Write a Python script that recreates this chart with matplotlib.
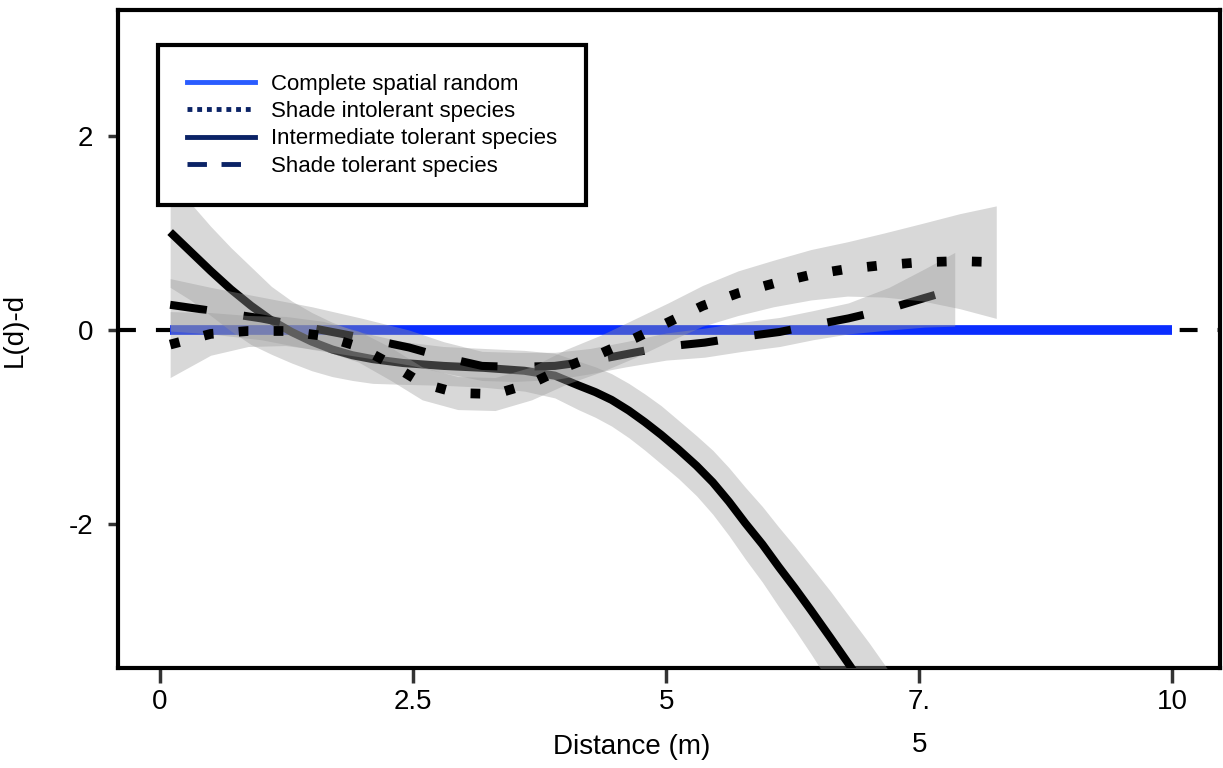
import matplotlib
matplotlib.use('Agg')
import numpy as np
import matplotlib.pyplot as plt
from matplotlib.lines import Line2D

plt.rcParams['font.family'] = ['Liberation Sans', 'DejaVu Sans']
plt.rcParams['axes.unicode_minus'] = False

# values
csr_x = [0.1, 10.0]
csr_y = [0.0, 0.0]

# intermediate tolerant species (solid)
inter_x = [0.1, 0.3, 0.5, 0.7, 0.9, 1.1, 1.3, 1.5, 1.7, 1.9, 2.1, 2.4, 2.8, 3.2,
           3.6, 3.9, 4.13, 4.3, 4.46, 4.63, 4.79, 4.95, 5.12, 5.3, 5.46, 5.62,
           5.78, 5.95, 6.11, 6.27, 6.43, 6.62, 6.82, 7.0, 7.25]
inter_y = [1.01, 0.81, 0.61, 0.42, 0.25, 0.1, -0.02, -0.12, -0.2, -0.26, -0.3,
           -0.34, -0.37, -0.39, -0.42, -0.47, -0.57, -0.64, -0.72, -0.83, -0.95,
           -1.08, -1.23, -1.4, -1.57, -1.77, -1.99, -2.21, -2.44, -2.66, -2.89,
           -3.17, -3.47, -3.75, -4.15]
inter_se = [0.57, 0.5, 0.46, 0.43, 0.4, 0.35, 0.32, 0.3, 0.28, 0.26, 0.25, 0.22,
            0.2, 0.2, 0.21, 0.23, 0.25, 0.26, 0.27, 0.28, 0.29, 0.3, 0.3, 0.31,
            0.33, 0.35, 0.37, 0.39, 0.41, 0.43, 0.45, 0.48, 0.5, 0.53, 0.56]

# shade tolerant species (dashed)
tol_x = [0.1, 0.5, 1.0, 1.5, 2.0, 2.46, 2.8, 3.18, 3.5, 3.9, 4.25, 4.6, 5.0, 5.38,
         5.75, 6.12, 6.45, 6.8, 7.2, 7.55, 7.85]
tol_y = [0.26, 0.2, 0.12, 0.02, -0.08, -0.18, -0.28, -0.37, -0.38, -0.37, -0.32,
         -0.25, -0.17, -0.13, -0.07, -0.02, 0.05, 0.12, 0.22, 0.33, 0.42]
tol_se = [0.27, 0.24, 0.22, 0.22, 0.2, 0.18, 0.16, 0.15, 0.15, 0.14, 0.13, 0.13,
          0.14, 0.15, 0.15, 0.15, 0.15, 0.16, 0.22, 0.3, 0.38]

# shade intolerant species (dotted)
intol_x = [0.1, 0.5, 0.87, 1.24, 1.61, 1.96, 2.28, 2.59, 2.94, 3.31, 3.67, 4.01,
           4.36, 4.7, 5.02, 5.36, 5.71, 6.06, 6.43, 6.79, 7.15, 7.53, 7.9, 8.26]
intol_y = [-0.15, -0.04, -0.01, -0.01, -0.06, -0.17, -0.35, -0.55, -0.65, -0.66,
           -0.55, -0.38, -0.24, -0.08, 0.08, 0.25, 0.38, 0.48, 0.57, 0.63, 0.67,
           0.7, 0.71, 0.7]
intol_se = [0.34, 0.22, 0.16, 0.15, 0.15, 0.16, 0.17, 0.17, 0.17, 0.17, 0.17, 0.18,
            0.19, 0.2, 0.2, 0.21, 0.23, 0.24, 0.26, 0.28, 0.33, 0.4, 0.49, 0.58]

x_ticks = [0, 2.5, 5, 7.5, 10]
x_labels = ['0', '2.5', '5', '7.\n5', '10']
y_ticks = [-2, 0, 2]
y_labels = ['-2', '0', '2']

labels = ['Complete spatial random', 'Shade intolerant species',
          'Intermediate tolerant species', 'Shade tolerant species']

fig = plt.figure(figsize=(12.23, 7.68), dpi=100)
ax = fig.add_axes([118 / 1223, 1 - 668 / 768, (1220 - 118) / 1223, (668 - 10) / 768])

ax.axhline(0, color='black', lw=3, linestyle=(0, (4.3, 4.8)), zorder=1)
ax.plot(csr_x, csr_y, color='#0a2dff', lw=7, solid_capstyle='butt', zorder=2)

band_kw = dict(color='#999999', alpha=0.38, lw=0)


def smooth(x, y, se, ls, lw):
    x = np.array(x)
    y = np.array(y)
    se = np.array(se)
    ax.fill_between(x, y - se, y + se, zorder=3, **band_kw)
    ax.plot(x, y, color='black', lw=lw, linestyle=ls, solid_capstyle='butt',
            dash_capstyle='butt', solid_joinstyle='round', zorder=3)


smooth(inter_x, inter_y, inter_se, '-', 5.8)
smooth(tol_x, tol_y, tol_se, (0, (4.6, 4.6)), 5.8)
smooth(intol_x, intol_y, intol_se, (0, (1, 2.6)), 7)

ax.set_xlim(-0.415, 10.47)
ax.set_ylim(-3.485, 3.3)

ax.set_xticks(x_ticks)
ax.set_xticklabels(x_labels)
ax.set_yticks(y_ticks)
ax.set_yticklabels(y_labels)
for t in ax.get_xticklabels():
    t.set_linespacing(1.85)

ax.tick_params(axis='x', length=11, width=2.5, color='#333333', labelsize=20, pad=4)
ax.tick_params(axis='y', length=7, width=2.5, color='#333333', labelsize=20, pad=11)

for s in ax.spines.values():
    s.set_linewidth(3)
    s.set_color('black')

ax.set_xlabel('Distance (m)', fontsize=20)
ax.xaxis.set_label_coords((632 - 118) / 1102, -(747 - 668) / 658)
ax.xaxis.label.set_va('center')
ax.set_ylabel('L(d)-d', fontsize=20)
ax.yaxis.set_label_coords((15 - 118) / 1102, (668 - 330) / 658)
ax.yaxis.label.set_va('center')

navy = '#0b2366'
handles = [
    Line2D([], [], color='#2a5cff', lw=3.5),
    Line2D([], [], color=navy, lw=3.5, linestyle=(0, (1, 1))),
    Line2D([], [], color=navy, lw=3.5),
    Line2D([], [], color=navy, lw=3.5, linestyle=(0, (4, 3))),
]
leg = ax.legend(handles, labels, loc='upper left',
                bbox_to_anchor=(158 / 1223, 1 - 45 / 768), bbox_transform=fig.transFigure,
                fontsize=16, frameon=True, fancybox=False, framealpha=1,
                edgecolor='black', borderpad=1.3, handlelength=3.07,
                handletextpad=0.72, labelspacing=0.28, borderaxespad=0)
leg.get_frame().set_linewidth(3)

fig.savefig('out.png', dpi=100)
